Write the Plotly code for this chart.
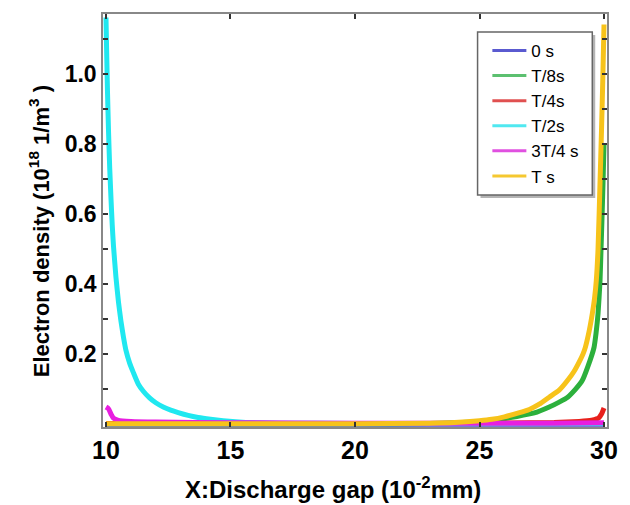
import plotly.graph_objects as go

# ---- data ----
names = ["0 s", "T/8s", "T/4s", "T/2s", "3T/4 s", "T s"]

x_0s = [10.0, 15.0, 20.0, 25.0, 30.0]
y_0s = [0.001, 0.001, 0.001, 0.001, 0.001]

x_t8 = [10.0, 15.0, 20.0, 23.0, 24.0, 25.0, 25.9, 26.5, 27.2, 27.8, 28.2, 28.54, 28.85, 29.13, 29.35, 29.6, 29.68,
        29.76, 29.84, 29.88, 29.92, 29.96, 30.0]
y_t8 = [0.002, 0.002, 0.002, 0.003, 0.005, 0.009, 0.016, 0.023, 0.033, 0.05, 0.064, 0.078, 0.10, 0.126, 0.165, 0.22, 0.26,
        0.316, 0.41, 0.50, 0.59, 0.69, 0.80]

x_t4 = [10.0, 15.0, 20.0, 25.0, 27.0, 28.0, 29.0, 29.5, 29.7, 29.8, 29.9, 29.96, 30.0]
y_t4 = [0.003, 0.003, 0.003, 0.003, 0.005, 0.006, 0.009, 0.012, 0.016, 0.02, 0.03, 0.04, 0.047]

x_t2 = [10.0, 10.03, 10.06, 10.1, 10.15, 10.2, 10.25, 10.3, 10.4, 10.5, 10.6, 10.7, 10.8, 10.95, 11.1, 11.3, 11.5,
        11.75, 12.0, 12.3, 12.6, 12.9, 13.3, 13.7, 14.2, 14.7, 15.2, 16.0, 17.0, 20.0, 25.0, 30.0]
y_t2 = [1.16, 1.05, 0.95, 0.84, 0.73, 0.645, 0.57, 0.51, 0.42, 0.35, 0.295, 0.25, 0.212, 0.175, 0.148, 0.115, 0.095,
        0.076, 0.062, 0.05, 0.041, 0.034, 0.026, 0.02, 0.015, 0.011, 0.008, 0.005, 0.004, 0.003, 0.003, 0.003]

x_3t4 = [10.0, 10.1, 10.2, 10.3, 10.5, 11.0, 12.0, 15.0, 20.0, 25.0, 28.0, 30.0]
y_3t4 = [0.05, 0.045, 0.03, 0.018, 0.012, 0.009, 0.007, 0.005, 0.004, 0.004, 0.004, 0.005]

x_ts = [10.0, 15.0, 20.0, 23.0, 24.0, 25.0, 25.5, 26.0, 26.57, 27.0, 27.4, 27.8, 28.2, 28.54, 28.8, 29.0, 29.15, 29.25,
        29.4, 29.53, 29.62, 29.69, 29.76, 29.84, 29.9, 29.95, 30.0]
y_ts = [0.002, 0.002, 0.002, 0.004, 0.006, 0.011, 0.015, 0.022, 0.033, 0.043, 0.058, 0.078, 0.098, 0.126, 0.152, 0.178,
        0.2, 0.22, 0.265, 0.316, 0.36, 0.41, 0.50, 0.69, 0.84, 0.98, 1.14]

x_ticks = [10, 15, 20, 25, 30]
y_ticks = [0.1, 0.2, 0.3, 0.4, 0.5, 0.6, 0.7, 0.8, 0.9, 1.0, 1.1]
y_ticktext = ["", "0.2", "", "0.4", "", "0.6", "", "0.8", "", "1.0", ""]

curve_colors = ["#4a4ad0", "#2cb03c", "#e8201c", "#20e8f0", "#e81ee0", "#f7c31a"]
legend_colors = ["#5a5ad0", "#5cc070", "#e05050", "#50e8f0", "#e050e0", "#f5c830"]
series = [(x_0s, y_0s), (x_t8, y_t8), (x_t4, y_t4), (x_t2, y_t2), (x_3t4, y_3t4), (x_ts, y_ts)]

fig = go.Figure()
for name, (xs, ys), c in zip(names, series, curve_colors):
    fig.add_trace(go.Scatter(x=xs, y=ys, mode="lines", name=name, showlegend=False,
                             line=dict(color=c, width=5, shape="spline", smoothing=0.5)))
for name, c in zip(names, legend_colors):
    fig.add_trace(go.Scatter(x=[None], y=[None], mode="lines", name=name,
                             line=dict(color=c, width=3)))

W, H = 630, 505
L, R, T, B = 103, 13, 12, 78
pw, ph = W - L - R, H - T - B


def px_x(p):
    return (p - L) / pw


def px_y(p):
    return (H - B - p) / ph


fig.update_layout(
    width=W, height=H,
    margin=dict(l=L, r=R, t=T, b=B),
    paper_bgcolor="white", plot_bgcolor="white",
    font=dict(family="Liberation Sans, Arial, sans-serif", color="black"),
    showlegend=True,
    legend=dict(x=px_x(495), y=px_y(31), xanchor="left", yanchor="top",
                bgcolor="rgba(0,0,0,0)", borderwidth=0,
                font=dict(size=17, family="Liberation Sans, Arial, sans-serif"),
                tracegroupgap=0, itemwidth=34),
)
# legend frame with a soft drop shadow
fig.add_shape(type="rect", xref="paper", yref="paper",
              x0=px_x(488), x1=px_x(605), y0=px_y(197), y1=px_y(33),
              fillcolor="#b4b4b4", line=dict(width=0), layer="above")
fig.add_shape(type="rect", xref="paper", yref="paper",
              x0=px_x(485), x1=px_x(602), y0=px_y(194), y1=px_y(30),
              fillcolor="white", line=dict(width=1.5, color="#666666"), layer="above")

fig.update_xaxes(range=[9.88, 30.12], tickvals=x_ticks, ticks="inside", ticklen=5,
                 tickcolor="#333333", tickwidth=1.5,
                 showline=True, linecolor="#888888", linewidth=1.5, mirror="ticks",
                 showgrid=False, zeroline=False,
                 tickfont=dict(size=25, weight="bold"))
fig.update_yaxes(range=[-0.007, 1.17], tickvals=y_ticks, ticktext=y_ticktext,
                 ticks="inside", ticklen=5, tickcolor="#333333", tickwidth=1.5,
                 showline=True, linecolor="#888888", linewidth=1.5, mirror="ticks",
                 showgrid=False, zeroline=False,
                 tickfont=dict(size=23, weight="bold"))

fig.add_annotation(text="X:Discharge gap (10<sup>-2</sup>mm)", xref="paper", yref="paper",
                   x=px_x(338), y=px_y(488), xanchor="center", yanchor="middle",
                   showarrow=False, font=dict(size=24, weight="bold"))
fig.add_annotation(text="Electron density (10<sup>18</sup> 1/m<sup>3</sup> )", xref="paper", yref="paper",
                   x=px_x(38), y=px_y(230), xanchor="center", yanchor="middle",
                   textangle=-90, showarrow=False, font=dict(size=22, weight="bold"))

fig.write_html("out.html")
